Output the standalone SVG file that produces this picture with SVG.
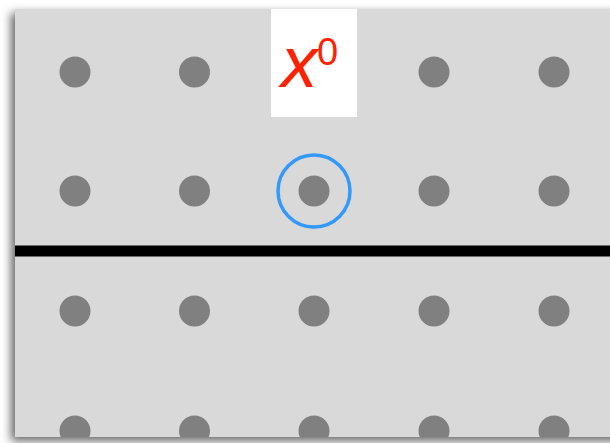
<svg xmlns="http://www.w3.org/2000/svg" width="610" height="443" viewBox="0 0 610 443">
  <defs>
    <filter id="sh" x="-10%" y="-10%" width="120%" height="120%">
      <feDropShadow dx="-4" dy="4" stdDeviation="5" flood-color="#000" flood-opacity="0.6"/>
    </filter>
    <clipPath id="clipbot"><rect x="0" y="0" width="610" height="437"/></clipPath>
    <style>
      .dot { fill: #808080; }
      .lbl { font-family: "Liberation Sans", Arial, sans-serif; fill: #ff2200; }
    </style>
  </defs>
  <rect x="0" y="0" width="610" height="443" fill="#ffffff"/>
  <rect id="panel" x="15" y="9" width="610" height="428" fill="#d9d9d9" filter="url(#sh)"/>
  <g id="dots">
    <circle class="dot" cx="75" cy="72" r="15.5"/>
    <circle class="dot" cx="194.5" cy="72" r="15.5"/>
    <circle class="dot" cx="434" cy="72" r="15.5"/>
    <circle class="dot" cx="554" cy="72" r="15.5"/>
    <circle class="dot" cx="75" cy="191" r="15.5"/>
    <circle class="dot" cx="194.5" cy="191" r="15.5"/>
    <circle class="dot" cx="314" cy="191" r="15.5"/>
    <circle class="dot" cx="434" cy="191" r="15.5"/>
    <circle class="dot" cx="554" cy="191" r="15.5"/>
    <circle class="dot" cx="75" cy="311" r="15.5"/>
    <circle class="dot" cx="194.5" cy="311" r="15.5"/>
    <circle class="dot" cx="314" cy="311" r="15.5"/>
    <circle class="dot" cx="434" cy="311" r="15.5"/>
    <circle class="dot" cx="554" cy="311" r="15.5"/>
    <g clip-path="url(#clipbot)">
      <circle class="dot" cx="75" cy="431" r="15.5"/>
      <circle class="dot" cx="194.5" cy="431" r="15.5"/>
      <circle class="dot" cx="314" cy="431" r="15.5"/>
      <circle class="dot" cx="434" cy="431" r="15.5"/>
      <circle class="dot" cx="554" cy="431" r="15.5"/>
    </g>
  </g>
  <g id="divider">
    <rect x="15" y="245.5" width="595" height="11" fill="#000"/>
  </g>
  <g id="highlight">
    <circle cx="314" cy="191" r="36" fill="none" stroke="#3399ff" stroke-width="3.5"/>
  </g>
  <g id="label">
    <rect x="271" y="9" width="86" height="108" fill="#ffffff"/>
    <text class="lbl" x="281" y="87" font-size="73" font-style="italic">x</text>
    <text class="lbl" x="317" y="65" font-size="38">0</text>
  </g>
</svg>
